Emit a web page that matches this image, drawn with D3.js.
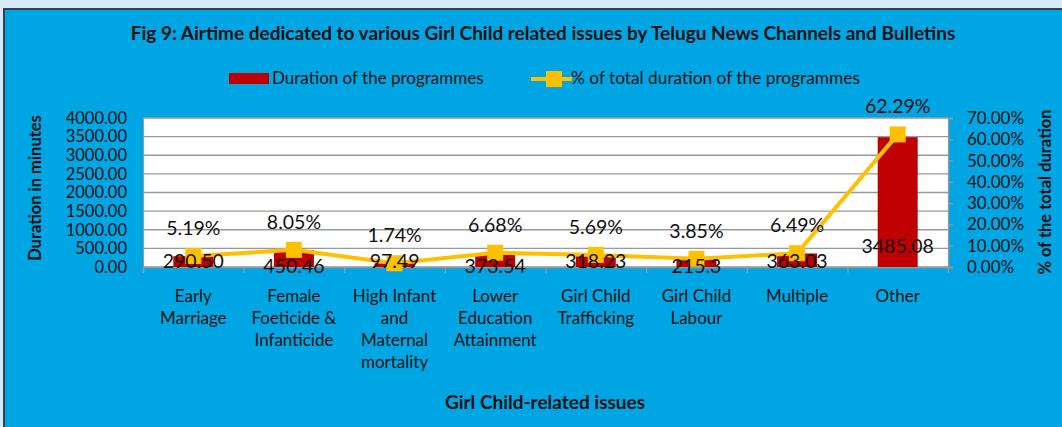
<!DOCTYPE html>
<html>
<head>
<meta charset="utf-8">
<script src="https://cdn.jsdelivr.net/npm/d3@7"></script>
<style>
  body { margin: 0; background: #d6eaf7; }
  svg { display: block; font-family: Lato, "Open Sans", sans-serif; }
</style>
</head>
<body>
<div id="chart"></div>
<script>
// data
var categories = [
  ["Early", "Marriage"],
  ["Female", "Foeticide &", "Infanticide"],
  ["High Infant", "and", "Maternal", "mortality"],
  ["Lower", "Education", "Attainment"],
  ["Girl Child", "Trafficking"],
  ["Girl Child", "Labour"],
  ["Multiple"],
  ["Other"]
];
var durations = [290.50, 450.46, 97.49, 373.54, 318.23, 215.3, 363.03, 3485.08];
var durationLabels = ["290.50", "450.46", "97.49", "373.54", "318.23", "215.3", "363.03", "3485.08"];
var percents = [5.19, 8.05, 1.74, 6.68, 5.69, 3.85, 6.49, 62.29];
var leftTicks = [0, 500, 1000, 1500, 2000, 2500, 3000, 3500, 4000];
var rightTicks = [0, 10, 20, 30, 40, 50, 60, 70];

var W = 1062, H = 427;
var margin = { top: 118, right: 114, bottom: 160, left: 143 };
var width = W - margin.left - margin.right;
var height = H - margin.top - margin.bottom;

var svg = d3.select("#chart")
    .append("svg")
    .attr("width", W)
    .attr("height", H);

// panel
svg.append("rect")
    .attr("x", 4).attr("y", 9)
    .attr("width", W).attr("height", H)
    .attr("fill", "#00a6e3")
    .attr("stroke", "#3b3f44")
    .attr("stroke-width", 2);

svg.append("text")
    .text("Fig 9: Airtime dedicated to various Girl Child related issues by Telugu News Channels and Bulletins")
    .attr("x", 543).attr("y", 40)
    .attr("text-anchor", "middle")
    .attr("font-weight", "bold")
    .attr("font-size", 19)
    .attr("fill", "#111");

// legend
var legend = svg.append("g");
legend.append("rect")
    .attr("x", 229).attr("y", 73)
    .attr("width", 40).attr("height", 11)
    .attr("fill", "#c00000");
legend.append("text")
    .text("Duration of the programmes")
    .attr("x", 272).attr("y", 84)
    .attr("font-size", 17)
    .attr("fill", "#111");
legend.append("line")
    .attr("x1", 531).attr("x2", 572)
    .attr("y1", 79).attr("y2", 79)
    .attr("stroke", "#ffc000")
    .attr("stroke-width", 4);
legend.append("rect")
    .attr("x", 546).attr("y", 71)
    .attr("width", 16).attr("height", 16)
    .attr("fill", "#ffc000");
legend.append("text")
    .text("% of total duration of the programmes")
    .attr("x", 571).attr("y", 84)
    .attr("font-size", 17.3)
    .attr("fill", "#111");

var g = svg.append("g")
    .attr("transform", "translate(" + margin.left + "," + margin.top + ")");

var x = d3.scaleBand()
    .domain(d3.range(categories.length))
    .range([0, width]);

var y = d3.scaleLinear().domain([0, 4000]).range([height, 0]);
var y2 = d3.scaleLinear().domain([0, 70]).range([height, 0]);

g.append("rect")
    .attr("width", width).attr("height", height)
    .attr("fill", "#fff");

// gridlines
g.selectAll(".grid")
    .data(leftTicks)
    .enter().append("line")
    .attr("x1", 0).attr("x2", width)
    .attr("y1", function(d) { return y(d); })
    .attr("y2", function(d) { return y(d); })
    .attr("stroke", "#999")
    .attr("stroke-width", 1.3);

// left axis
var leftAxis = g.append("g")
    .call(d3.axisLeft(y).tickValues(leftTicks).tickSize(0).tickPadding(16)
        .tickFormat(d3.format(".2f")));
leftAxis.select(".domain").attr("stroke", "#999");
leftAxis.selectAll("text").attr("font-size", 16.5).attr("fill", "#111")
    .attr("font-family", "Lato, sans-serif");

// right axis
var rightAxis = g.append("g")
    .attr("transform", "translate(" + width + ",0)")
    .call(d3.axisRight(y2).tickValues(rightTicks).tickSize(5).tickPadding(14)
        .tickFormat(function(d) { return d.toFixed(2) + "%"; }));
rightAxis.selectAll("line, .domain").attr("stroke", "#999").attr("stroke-width", 1.3);
rightAxis.selectAll("text").attr("font-size", 17).attr("fill", "#111")
    .attr("font-family", "Lato, sans-serif");

// bottom axis
var bottomAxis = g.append("g")
    .attr("transform", "translate(0," + height + ")")
    .call(d3.axisBottom(d3.scaleLinear().domain([0, categories.length]).range([0, width]))
        .tickValues(d3.range(categories.length + 1)).tickSize(6).tickFormat(""));
bottomAxis.selectAll("line, .domain").attr("stroke", "#999").attr("stroke-width", 1.3);

var catLabels = g.selectAll(".cat")
    .data(categories)
    .enter().append("text")
    .attr("class", "cat")
    .attr("text-anchor", "middle")
    .attr("font-size", 17)
    .attr("fill", "#111")
    .attr("transform", function(d, i) {
        return "translate(" + (x(i) + x.bandwidth() / 2) + "," + (height + 35) + ")";
    });
catLabels.selectAll("tspan")
    .data(function(d) { return d; })
    .enter().append("tspan")
    .attr("x", 0)
    .attr("dy", function(d, i) { return i === 0 ? 0 : 22; })
    .text(function(d) { return d; });

// bars
var barW = 40;
g.selectAll(".bar")
    .data(durations)
    .enter().append("rect")
    .attr("x", function(d, i) { return x(i) + x.bandwidth() / 2 - barW / 2; })
    .attr("y", function(d) { return y(d); })
    .attr("width", barW)
    .attr("height", function(d) { return height - y(d); })
    .attr("fill", "#c00000");

// line
var line = d3.line()
    .x(function(d, i) { return x(i) + x.bandwidth() / 2; })
    .y(function(d) { return y2(d); });

g.append("path")
    .datum(percents)
    .attr("d", line)
    .attr("fill", "none")
    .attr("stroke", "#ffc000")
    .attr("stroke-width", 4);

g.selectAll(".marker")
    .data(percents)
    .enter().append("rect")
    .attr("x", function(d, i) { return x(i) + x.bandwidth() / 2 - 8; })
    .attr("y", function(d) { return y2(d) - 8; })
    .attr("width", 16).attr("height", 16)
    .attr("fill", "#ffc000");

// percent labels above markers
g.selectAll(".pct")
    .data(percents)
    .enter().append("text")
    .attr("x", function(d, i) { return x(i) + x.bandwidth() / 2; })
    .attr("y", function(d) { return y2(d) - 21; })
    .attr("text-anchor", "middle")
    .attr("font-size", 19.5)
    .attr("fill", "#111")
    .text(function(d) { return d.toFixed(2) + "%"; });

// duration labels near bar base; the tall bar's label sits higher
g.selectAll(".dur")
    .data(durationLabels)
    .enter().append("text")
    .attr("x", function(d, i) { return x(i) + x.bandwidth() / 2; })
    .attr("y", function(d, i) {
        return durations[i] > 2000 ? y(durations[i]) + 116 : height + 4 - (i % 2 === 0 ? 3 : -2);
    })
    .attr("text-anchor", "middle")
    .attr("font-size", 19.5)
    .attr("fill", "#111")
    .text(function(d) { return d; });

// axis titles
svg.append("text")
    .text("Duration in minutes")
    .attr("transform", "translate(41,188) rotate(-90)")
    .attr("text-anchor", "middle")
    .attr("font-weight", "bold")
    .attr("font-size", 16.5)
    .attr("fill", "#111");

svg.append("text")
    .text("% of the total duration")
    .attr("transform", "translate(1051,192) rotate(-90)")
    .attr("text-anchor", "middle")
    .attr("font-weight", "bold")
    .attr("font-size", 16.5)
    .attr("fill", "#111");

svg.append("text")
    .text("Girl Child-related issues")
    .attr("x", 545).attr("y", 409)
    .attr("text-anchor", "middle")
    .attr("font-weight", "bold")
    .attr("font-size", 19)
    .attr("fill", "#111");
</script>
</body>
</html>
